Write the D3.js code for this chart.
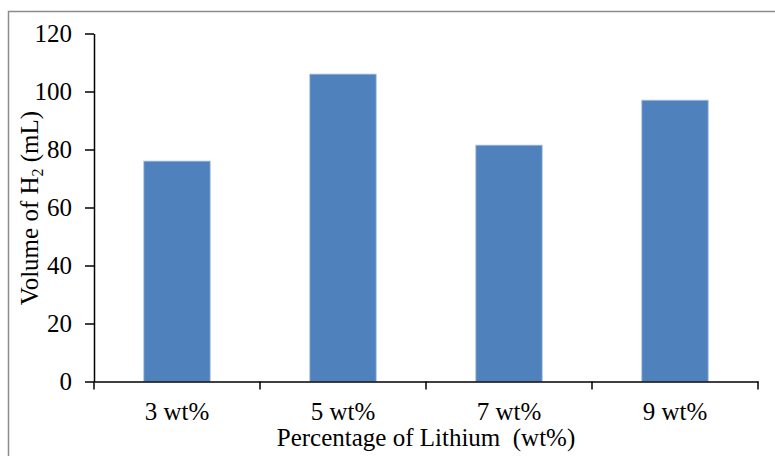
<!DOCTYPE html>
<html><head><meta charset="utf-8">
<script src="https://cdn.jsdelivr.net/npm/d3@7"></script>
<style>
html,body{margin:0;padding:0;background:#fff;}
svg{display:block;font-family:"Liberation Serif","Times New Roman",serif;}
</style></head>
<body>
<svg id="c" width="775" height="456"></svg>
<script>
const categories = ["3 wt%", "5 wt%", "7 wt%", "9 wt%"];
const volumes = [76, 106, 81.5, 97];
const yTicks = [0, 20, 40, 60, 80, 100, 120];
const xTitle = "Percentage of Lithium  (wt%)";

const FS = 25;
const svg = d3.select("#c");
const m = {left: 94, right: 758, top: 33.5, bottom: 381.5};

svg.append("rect").attr("x", 8.5).attr("y", 11.5).attr("width", 775).attr("height", 460)
  .attr("fill", "#fff").attr("stroke", "#8c8c8c").attr("stroke-width", 1.5);

const x = d3.scaleBand().domain(categories).range([m.left, m.right]).padding(0);
const y = d3.scaleLinear().domain([0, 120]).range([m.bottom, m.top]);

const bw = x.bandwidth() * 0.4;
svg.append("g").selectAll("rect").data(categories).join("rect")
  .attr("x", d => x(d) + x.bandwidth()/2 - bw/2)
  .attr("width", bw)
  .attr("y", (d,i) => y(volumes[i]))
  .attr("height", (d,i) => y(0) - y(volumes[i]))
  .attr("fill", "#4f81bd")
  .attr("stroke", "#a9c2e3").attr("stroke-width", 0.8);

// y axis
const ya = svg.append("g").attr("transform", `translate(${m.left},0)`)
  .call(d3.axisLeft(y).tickValues(yTicks).tickSize(9).tickPadding(13).tickSizeOuter(0));
ya.select(".domain").attr("stroke", "#000").attr("stroke-width", 1.5);
ya.selectAll(".tick line").attr("stroke", "#000").attr("stroke-width", 1.5);
ya.selectAll(".tick text").attr("font-size", FS).attr("fill", "#000")
  .attr("font-family", "Liberation Serif");

// x axis
const xa = svg.append("g").attr("transform", `translate(0,${m.bottom})`)
  .call(d3.axisBottom(x).tickSize(0));
xa.select(".domain").attr("stroke", "#000").attr("stroke-width", 1.5);
xa.selectAll(".tick text").attr("font-size", FS).attr("fill", "#000")
  .attr("font-family", "Liberation Serif").attr("y", 38.5).attr("dy", 0);
// category boundary ticks
const bounds = categories.map(c => x(c)).concat([x(categories[categories.length-1]) + x.bandwidth()]);
xa.selectAll("line.bt").data(bounds).join("line").attr("class","bt")
  .attr("x1", d => d).attr("x2", d => d).attr("y1", 0).attr("y2", 8)
  .attr("stroke", "#000").attr("stroke-width", 1.5);

// titles
svg.append("text").attr("x", (m.left + m.right)/2).attr("y", 446)
  .attr("text-anchor", "middle").attr("font-size", FS).attr("fill", "#000")
  .style("white-space", "pre").text(xTitle);

const yt = svg.append("text").attr("transform", "translate(38,208) rotate(-90)")
  .attr("text-anchor", "middle").attr("font-size", FS).attr("fill", "#000");
yt.append("tspan").text("Volume of H");
yt.append("tspan").attr("font-size", 16).attr("dy", 5).text("2");
yt.append("tspan").attr("dy", -5).text(" (mL)");
</script>
</body></html>
